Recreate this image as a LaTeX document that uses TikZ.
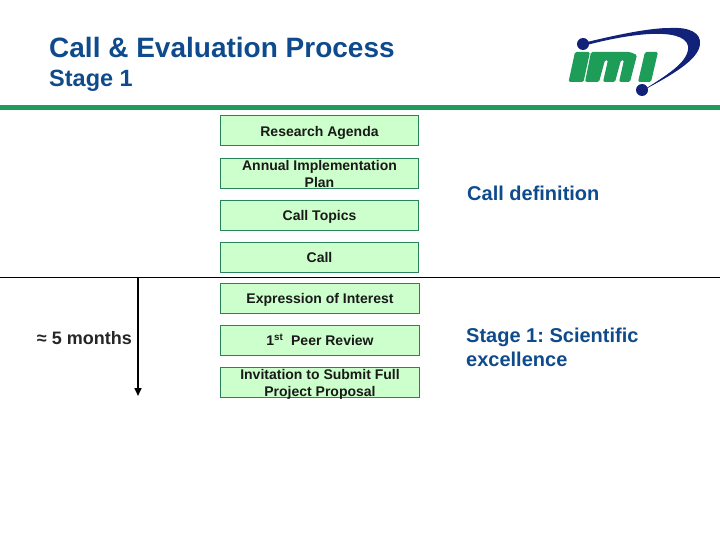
\documentclass[tikz,border=0pt]{standalone}
\usepackage{fontspec}
\setmainfont{Liberation Sans}
\usepackage{xcolor}
\usetikzlibrary{positioning,arrows.meta,calc}
\definecolor{imigreen}{RGB}{29,157,88}
\definecolor{iminavy}{RGB}{18,34,120}
\definecolor{boxfill}{RGB}{204,255,204}
\definecolor{boxline}{RGB}{40,130,90}
\definecolor{titleblue}{RGB}{15,75,140}
\newcommand{\nodepth}[1]{\raisebox{0pt}[\height][0pt]{#1}}
\frenchspacing
\tikzset{
  stagebox/.style={draw=boxline, fill=boxfill, line width=1pt, minimum width=198.5pt, minimum height=30pt,
    inner sep=0pt, align=center, font=\fontsize{14}{17}\selectfont\bfseries\color{black!90}},
  sidelabel/.style={anchor=west, align=left, inner sep=0pt, font=\fontsize{20}{24}\selectfont\bfseries, text=titleblue},
  logoshape/.style={fill=imigreen, rounded corners=1.5pt}
}
\begin{document}
\begin{tikzpicture}[x=1pt,y=-1pt]
\useasboundingbox (0,0) rectangle (720,540);
% Header
\node[anchor=west, font=\fontsize{28}{32}\selectfont\bfseries, text=titleblue, inner sep=0pt] (title) at (49,47) {Call \& Evaluation Process};
\node[anchor=west, font=\fontsize{23.5}{28}\selectfont\bfseries, text=titleblue, inner sep=0pt] (subtitle) at (49,81) {Stage 1};
\fill[imigreen] (0,105) rectangle (720,110.5);

% Logo
\fill[logoshape] (568.5,82) -- (575,52) -- (590,52) -- (583.5,82) -- cycle;
\fill[logoshape] (585,82) -- (591,52) -- (630,52) -- (637,55) -- (630,82) -- (619,82)
  -- (624,60) -- (621,60) -- (615,82) -- (603,82) -- (608,60) -- (605,60) -- (599,82) -- cycle;
\fill[logoshape] (638,82) -- (645,52) -- (658,52) -- (651,82) -- cycle;
\fill[iminavy] (583,43) .. controls (620,34) and (650,28) .. (670,28)
  .. controls (690,27) and (701,33) .. (700,44)
  .. controls (699,60) and (670,76) .. (642,91)
  .. controls (665,76) and (690,62) .. (688,46)
  .. controls (686,36) and (670,33) .. (650,34)
  .. controls (630,35) and (605,40) .. (583,46) -- cycle;
\fill[iminavy] (583,44) circle (6pt);
\fill[iminavy] (642,90) circle (6pt);

% Boxes
\node[stagebox] (agenda) at (319.5,131) {\nodepth{Research Agenda}};
\node[stagebox] (plan) at (319.5,173.3) {\rule{0pt}{12pt}Annual Implementation\\Plan};
\node[stagebox] (topics) at (319.5,215.2) {\nodepth{Call Topics}};
\node[stagebox] (call) at (319.5,257.3) {Call};
\node[stagebox] (interest) at (320,298.3) {\nodepth{Expression of Interest}};
\node[stagebox] (review) at (320,340.3) {1\smash{\textsuperscript{st}}~~Peer Review};
\node[stagebox] (invite) at (320,382.3) {\rule{0pt}{12pt}Invitation to Submit Full\\\nodepth{Project Proposal}};

% Time line
\coordinate (ruleleft) at (0,277);
\coordinate (ruleright) at (720,277);
\coordinate (timestart) at (138,277);
\coordinate (timeend) at (138,396);
\draw[line width=1pt] (ruleleft) -- (ruleright);
\draw[line width=1.6pt, -{Stealth[length=8pt,width=7pt,inset=0pt]}] (timestart) -- (timeend);
\node[anchor=east, font=\fontsize{18}{20}\selectfont\bfseries, text=black!85, inner sep=0pt] (months) at (132,338) {≈ 5 months};

% Side labels
\node[sidelabel] (definition) at (467,193) {Call definition};
\node[sidelabel] (excellence) at (466,347) {Stage 1: Scientific\\excellence};
\end{tikzpicture}
\end{document}
